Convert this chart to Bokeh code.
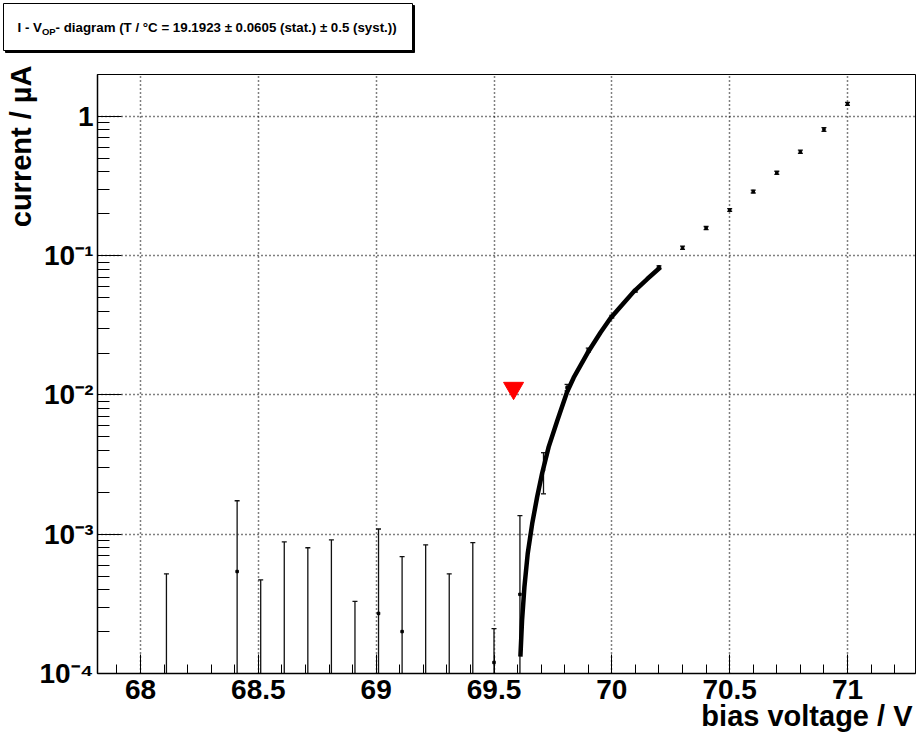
import math
from bokeh.plotting import figure
from bokeh.models import (Range1d, Label, SingleIntervalTicker, FixedTicker,
                          CustomJSTickFormatter, ColumnDataSource, Title)
from bokeh.embed import file_html
from bokeh.resources import INLINE

# ---------------- data ----------------
voltage = [68.11, 68.41, 68.51, 68.61, 68.71, 68.81, 68.91, 69.01, 69.11, 69.21,
           69.31, 69.41, 69.50, 69.61, 69.71, 69.81, 69.90, 70.00, 70.10, 70.20,
           70.30, 70.40, 70.50, 70.60, 70.70, 70.80, 70.90, 71.00]
current = [0.00004, 0.00054, 0.00005, 0.00003, 0.00004, 0.00002, 0.00003, 0.00027,
           0.00020, 0.00004, 0.00002, 0.00003, 0.00012, 0.00037, 0.0029, 0.0113,
           0.0210, 0.0365, 0.0560, 0.0830, 0.114, 0.158, 0.213, 0.289, 0.394,
           0.557, 0.807, 1.23]
current_err = [0.00048, 0.00120, 0.00042, 0.00085, 0.00076, 0.00089, 0.00030, 0.00082,
               0.00049, 0.00080, 0.00050, 0.00084, 0.00009, 0.00099, 0.00095, 0.0006,
               0.0007, 0.0008, 0.0012, 0.0015, 0.003, 0.004, 0.005, 0.007, 0.010,
               0.015, 0.025, 0.03]

fit_voltage = [69.612, 69.619, 69.629, 69.643, 69.662, 69.683, 69.704, 69.732,
               69.768, 69.810, 69.838, 69.902, 69.952, 69.994, 70.044, 70.093,
               70.150, 70.206]
fit_current = [1.32e-4, 2.41e-4, 4.18e-4, 7.26e-4, 1.19e-3, 1.85e-3, 2.73e-3, 4.24e-3,
               6.5e-3, 0.0105, 0.0133, 0.0207, 0.0281, 0.0356, 0.0444, 0.0552,
               0.0680, 0.0826]

vop_voltage = [69.583]
vop_current = [0.0112]

x_ticks_interval = 0.5
y_major_ticks = [1e-4, 1e-3, 1e-2, 1e-1, 1.0]
title_pieces = ["I - V", "OP", " - diagram (T / \u00b0C = 19.1923 \u00b1 0.0605 (stat.) \u00b1 0.5 (syst.))"]
x_title = "bias voltage / V"
y_title = "current / \u00b5A"

X0, X1 = 67.8175, 71.2885
Y0, Y1 = 1e-4, 2.0
FONT = "Liberation Sans, Arial, Helvetica, sans-serif"
HEAD_H = 55

# ---------------- header (title box) ----------------
h = figure(width=916, height=HEAD_H, output_backend="svg", toolbar_location=None,
           x_range=Range1d(0, 916), y_range=Range1d(HEAD_H, 0),
           x_axis_location=None, y_axis_location=None,
           min_border_left=0, min_border_right=0, min_border_top=0, min_border_bottom=0,
           background_fill_color="white", border_fill_color="white")
h.outline_line_color = None
h.xgrid.visible = False
h.ygrid.visible = False
h.quad(left=[5], right=[414], top=[5], bottom=[52], fill_color="black", line_color="black")
h.quad(left=[3], right=[412], top=[3], bottom=[50], fill_color="white",
       line_color="black", line_width=1)
TS, SS = 13.3, 9.5
W = {" ": 278, "I": 278, "-": 333, "V": 667, "O": 778, "P": 667}
w1 = sum(W[c] for c in title_pieces[0]) / 1000 * TS
w2 = sum(W[c] for c in title_pieces[1]) / 1000 * SS
x_start = 17
h.add_layout(Label(x=x_start, y=27, text=title_pieces[0], text_baseline="middle",
                   text_font=FONT, text_font_style="bold", text_font_size=f"{TS}px",
                   text_color="black"))
h.add_layout(Label(x=x_start + w1, y=31, text=title_pieces[1], text_baseline="middle",
                   text_font=FONT, text_font_style="bold", text_font_size=f"{SS}px",
                   text_color="black"))
h.add_layout(Label(x=x_start + w1 + w2, y=27, text=title_pieces[2], text_baseline="middle",
                   text_font=FONT, text_font_style="bold", text_font_size=f"{TS}px",
                   text_color="black"))

# ---------------- main plot ----------------
p = figure(width=916, height=737 - HEAD_H, output_backend="svg", toolbar_location=None,
           y_axis_type="log", x_range=Range1d(X0, X1), y_range=Range1d(Y0, Y1),
           min_border_left=97, min_border_right=1, min_border_top=74 - HEAD_H,
           min_border_bottom=64, background_fill_color="white",
           border_fill_color="white")
p.outline_line_color = "black"
p.outline_line_width = 1

p.xaxis.ticker = SingleIntervalTicker(interval=x_ticks_interval, num_minor_ticks=5)
y_minor = [k * t for t in y_major_ticks[:-1] for k in range(2, 10)] + [2.0 * y_major_ticks[-1]]
p.yaxis.ticker = FixedTicker(ticks=y_major_ticks, minor_ticks=y_minor)
p.yaxis.formatter = CustomJSTickFormatter(code="""
const e = Math.round(Math.log10(tick));
if (e == 0) return "1";
const sup = {"-":"\u207b","0":"\u2070","1":"\u00b9","2":"\u00b2","3":"\u00b3","4":"\u2074","5":"\u2075","6":"\u2076","7":"\u2077","8":"\u2078","9":"\u2079"};
return "10" + String(e).split("").map(c => sup[c]).join("");
""")
for ax in (p.xaxis, p.yaxis):
    ax.axis_line_color = "black"
    ax.axis_line_width = 1.5
    ax.major_tick_line_color = "black"
    ax.minor_tick_line_color = "black"
    ax.major_tick_out = 0
    ax.minor_tick_out = 0
    ax.major_label_text_font = FONT
    ax.major_label_text_font_style = "bold"
    ax.major_label_text_font_size = "28px"
    ax.major_label_text_color = "black"
p.xaxis.major_tick_in = 19
p.xaxis.minor_tick_in = 9
p.yaxis.major_tick_in = 24
p.yaxis.minor_tick_in = 12
p.xaxis.major_label_standoff = 6
p.yaxis.major_label_standoff = 4

for g in (p.xgrid, p.ygrid):
    g.grid_line_color = "black"
    g.grid_line_dash = "1 3"
    g.grid_line_width = 1.5

p.add_layout(Title(text=x_title, align="right", text_font=FONT, text_font_style="bold",
                   text_font_size="29px", text_color="black", standoff=-7, offset=3), "below")
p.add_layout(Title(text=y_title, align="right", text_font=FONT, text_font_style="bold",
                   text_font_size="29px", text_color="black", standoff=0, offset=-9), "left")

lo = [max(c - e, 1e-7) for c, e in zip(current, current_err)]
hi = [c + e for c, e in zip(current, current_err)]
src = ColumnDataSource(dict(v=voltage, c=current, lo=lo, hi=hi))
p.segment(x0="v", y0="lo", x1="v", y1="hi", source=src, line_color="#111111", line_width=1.3)
p.scatter(x="v", y="hi", source=src, marker="dash", size=5, line_color="#111111", line_width=1.3)
p.scatter(x="v", y="lo", source=src, marker="dash", size=5, line_color="#111111", line_width=1.3)
p.scatter(x="v", y="c", source=src, marker="square", size=2.5, color="black")

p.line(fit_voltage, fit_current, line_color="black", line_width=4.5)
p.scatter(vop_voltage, vop_current, marker="inverted_triangle", size=20,
          fill_color="red", line_color="red")

open("out.html", "w").write(file_html([h, p], INLINE))
